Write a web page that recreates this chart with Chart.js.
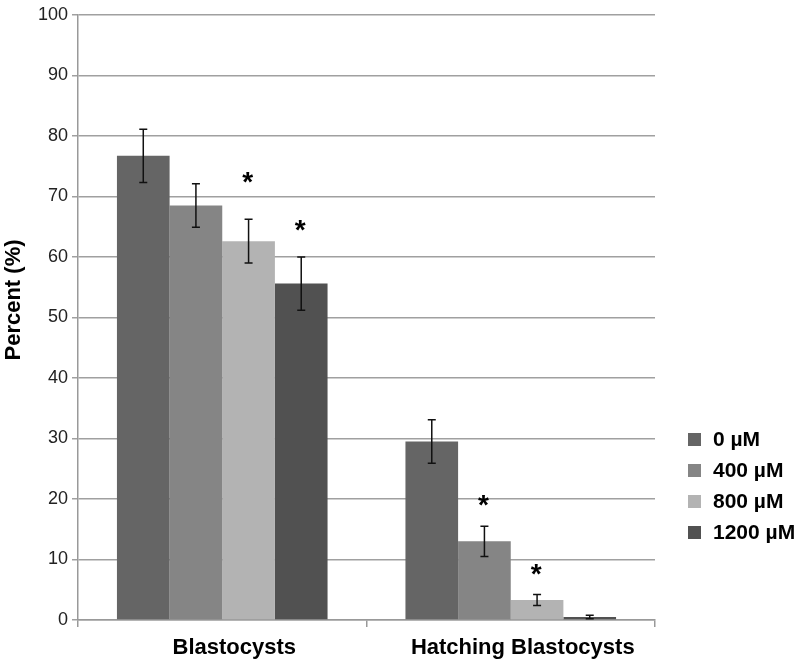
<!DOCTYPE html>
<html>
<head>
<meta charset="utf-8">
<script src="https://cdn.jsdelivr.net/npm/chart.js@4.4.1/dist/chart.umd.min.js"></script>
<style>
  html, body { margin: 0; padding: 0; background: #fff; }
  #wrap { width: 799px; height: 661px; }
</style>
</head>
<body>
<div id="wrap"><canvas id="chart"></canvas></div>
<script>
// data
const categories = ["Blastocysts", "Hatching Blastocysts"];
const doseLabels = ["0 µM", "400 µM", "800 µM", "1200 µM"];
const dose0 = [76.7, 29.5];
const dose400 = [68.5, 13.0];
const dose800 = [62.6, 3.3];
const dose1200 = [55.6, 0.5];
const err0 = [4.4, 3.6];
const err400 = [3.6, 2.5];
const err800 = [3.6, 0.9];
const err1200 = [4.4, 0.3];
// where the significance stars sit (value units), null = no star
const star0 = [null, null];
const star400 = [null, 19.1];
const star800 = [72.5, 7.7];
const star1200 = [64.5, null];
const yTicks = [0, 10, 20, 30, 40, 50, 60, 70, 80, 90, 100];

const colors = ["#656565", "#858585", "#b3b3b3", "#515151"];
const FONT = "'Liberation Sans', Arial, sans-serif";

const series = [dose0, dose400, dose800, dose1200];
const errors = [err0, err400, err800, err1200];
const stars = [star0, star400, star800, star1200];

const extras = {
    id: "extras",
    afterDatasetsDraw(chart) {
        const ctx = chart.ctx;
        const y = chart.scales.y;
        ctx.save();
        // error bars
        ctx.strokeStyle = "#111";
        ctx.lineWidth = 1.5;
        chart.data.datasets.forEach((ds, i) => {
            const meta = chart.getDatasetMeta(i);
            meta.data.forEach((bar, j) => {
                const v = ds.data[j], e = errors[i][j];
                const top = y.getPixelForValue(v + e);
                const bot = y.getPixelForValue(v - e);
                const x = bar.x;
                ctx.beginPath();
                ctx.moveTo(x, top); ctx.lineTo(x, bot);
                ctx.moveTo(x - 4, top); ctx.lineTo(x + 4, top);
                ctx.moveTo(x - 4, bot); ctx.lineTo(x + 4, bot);
                ctx.stroke();
                const s = stars[i][j];
                if (s !== null) {
                    ctx.fillStyle = "#000";
                    ctx.font = "bold 28px " + FONT;
                    ctx.textAlign = "center";
                    ctx.textBaseline = "middle";
                    ctx.fillText("*", x - 1, y.getPixelForValue(s) + 2);
                }
            });
        });
        // y title
        ctx.fillStyle = "#000";
        ctx.font = "bold 22px " + FONT;
        ctx.translate(14, 300);
        ctx.rotate(-Math.PI / 2);
        ctx.textAlign = "center";
        ctx.textBaseline = "middle";
        ctx.fillText("Percent (%)", 0, 0);
        ctx.restore();
        // legend
        ctx.save();
        ctx.font = "bold 21px " + FONT;
        ctx.textBaseline = "middle";
        ctx.textAlign = "left";
        doseLabels.forEach((lab, i) => {
            const cy = 439 + i * 31;
            ctx.fillStyle = colors[i];
            ctx.fillRect(688, cy - 6, 13, 13);
            ctx.fillStyle = "#000";
            ctx.fillText(lab, 713, cy + 1);
        });
        ctx.restore();
    }
};

new Chart(document.getElementById("chart"), {
    type: "bar",
    data: {
        labels: categories,
        datasets: series.map((d, i) => ({
            label: doseLabels[i],
            data: d,
            backgroundColor: colors[i],
            borderWidth: 0,
            categoryPercentage: 0.73,
            barPercentage: 1.0
        }))
    },
    options: {
        responsive: true,
        maintainAspectRatio: false,
        animation: false,
        layout: { padding: { top: 9, right: 144, left: 0, bottom: 0 } },
        plugins: { legend: { display: false }, tooltip: { enabled: false } },
        scales: {
            x: {
                offset: true,
                grid: { offset: true, drawOnChartArea: false, drawTicks: true, tickLength: 7, color: "#999", lineWidth: 1.5 },
                border: { color: "#999", width: 1.5 },
                ticks: { color: "#000", font: { family: FONT, size: 22, weight: "bold" }, padding: 8, labelOffset: 12 },
                afterFit(scale) { scale.height = 41; }
            },
            y: {
                min: 0, max: 100,
                afterBuildTicks(scale) { scale.ticks = yTicks.map(v => ({ value: v })); },
                grid: { color: "#a0a0a0", lineWidth: 1.5, drawTicks: true, tickLength: 6 },
                border: { color: "#999", width: 1.5 },
                ticks: { color: "#222", font: { family: FONT, size: 18 }, padding: 4 },
                afterFit(scale) { scale.width = 78; }
            }
        }
    },
    plugins: [extras]
});
</script>
</body>
</html>
